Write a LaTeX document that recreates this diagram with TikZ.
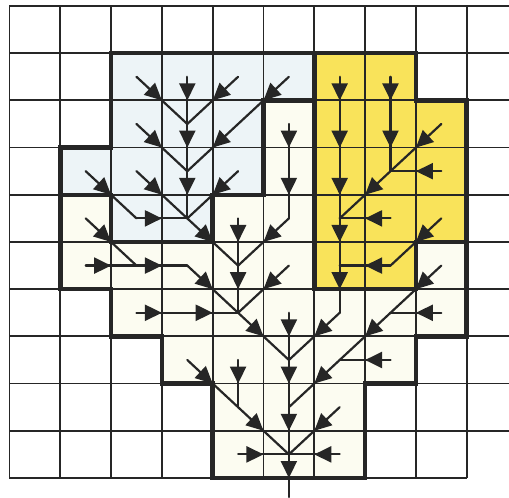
\documentclass[tikz,border=0pt]{standalone}
\usetikzlibrary{arrows.meta,decorations.markings}
\definecolor{ink}{HTML}{262626}
\definecolor{bluefill}{HTML}{EDF4F7}
\definecolor{yellowfill}{HTML}{F9E35A}
\definecolor{creamfill}{HTML}{FCFCF1}
\begin{document}
\begin{tikzpicture}[x=50.8pt,y=-47.2pt,
  gridline/.style={ink,line width=1.8pt},
  border/.style={ink,line width=4.5pt,line join=miter},
  flow/.style={ink,line width=2.2pt,line cap=round,postaction={decorate},
    decoration={markings,mark=at position #1 with {\arrow{Triangle[length=17pt,width=16pt]}}}},
  flow/.default=0.5]
\useasboundingbox (-0.187,-0.127) rectangle (9.833,10.403);
\fill[white] (-0.187,-0.127) rectangle (9.833,10.403);
% catchment fills
\fill[creamfill] (2,1) -- (8,1) -- (8,2) -- (9,2) -- (9,7) -- (8,7) -- (8,8) -- (7,8) -- (7,10) -- (4,10) -- (4,8) -- (3,8) -- (3,7) -- (2,7) -- (2,6) -- (1,6) -- (1,3) -- (2,3) -- cycle;
\fill[bluefill] (2,1) -- (6,1) -- (6,2) -- (5,2) -- (5,4) -- (4,4) -- (4,5) -- (2,5) -- (2,4) -- (1,4) -- (1,3) -- (2,3) -- cycle;
\fill[yellowfill] (6,1) -- (8,1) -- (8,2) -- (9,2) -- (9,5) -- (8,5) -- (8,6) -- (6,6) -- cycle;
% grid
\foreach \i in {0,...,9} \draw[gridline] (\i,0) -- (\i,10);
\foreach \j in {0,...,9} \draw[gridline] (0,\j) -- (9.833,\j);
\draw[gridline] (0,10) -- (9,10);
% boundaries
\draw[border] (2,1) -- (8,1) -- (8,2) -- (9,2) -- (9,7) -- (8,7) -- (8,8) -- (7,8) -- (7,10) -- (4,10) -- (4,8) -- (3,8) -- (3,7) -- (2,7) -- (2,6) -- (1,6) -- (1,3) -- (2,3) -- cycle;
\draw[border] (6,2) -- (5,2) -- (5,4) -- (4,4) -- (4,5) -- (2,5) -- (2,4) -- (1,4);
\draw[border] (6,1) -- (6,6) -- (8,6) -- (8,5) -- (9,5);
% cell centres
\foreach \i in {0,...,9} \foreach \j in {0,...,9} \coordinate (c-\i-\j) at (\i+0.5,\j+0.5);
\coordinate (outlet) at (5.5,10.403);
% flow directions: col/row/dx/dy
\foreach \c/\r/\dx/\dy in {
  2/1/1/1, 3/1/0/1, 4/1/-1/1, 5/1/-1/1, 6/1/0/1, 7/1/0/1,
  2/2/1/1, 3/2/0/1, 4/2/-1/1, 5/2/0/1, 6/2/0/1, 7/2/0/1, 8/2/-1/1,
  1/3/1/1, 2/3/1/1, 3/3/0/1, 4/3/-1/1, 5/3/0/1, 6/3/0/1, 7/3/-1/1, 8/3/-1/0,
  1/4/1/1, 2/4/1/0, 3/4/1/1, 4/4/0/1, 5/4/-1/1, 6/4/0/1, 7/4/-1/0, 8/4/-1/1,
  1/5/1/0, 2/5/1/0, 3/5/1/1, 4/5/0/1, 5/5/-1/1, 6/5/0/1, 7/5/-1/0, 8/5/-1/1,
  2/6/1/0, 3/6/1/0, 4/6/1/1, 5/6/0/1, 6/6/-1/1, 7/6/-1/1, 8/6/-1/0,
  3/7/1/1, 4/7/0/1, 5/7/0/1, 6/7/-1/1, 7/7/-1/0,
  4/8/1/1, 5/8/0/1, 6/8/-1/1,
  4/9/1/0, 6/9/-1/0}{
  \pgfmathtruncatemacro\tc{\c+\dx}
  \pgfmathtruncatemacro\tr{\r+\dy}
  \draw[flow] (c-\c-\r) -- (c-\tc-\tr);
}
\draw[flow=0.554] (c-5-9) -- (outlet);
\end{tikzpicture}
\end{document}
